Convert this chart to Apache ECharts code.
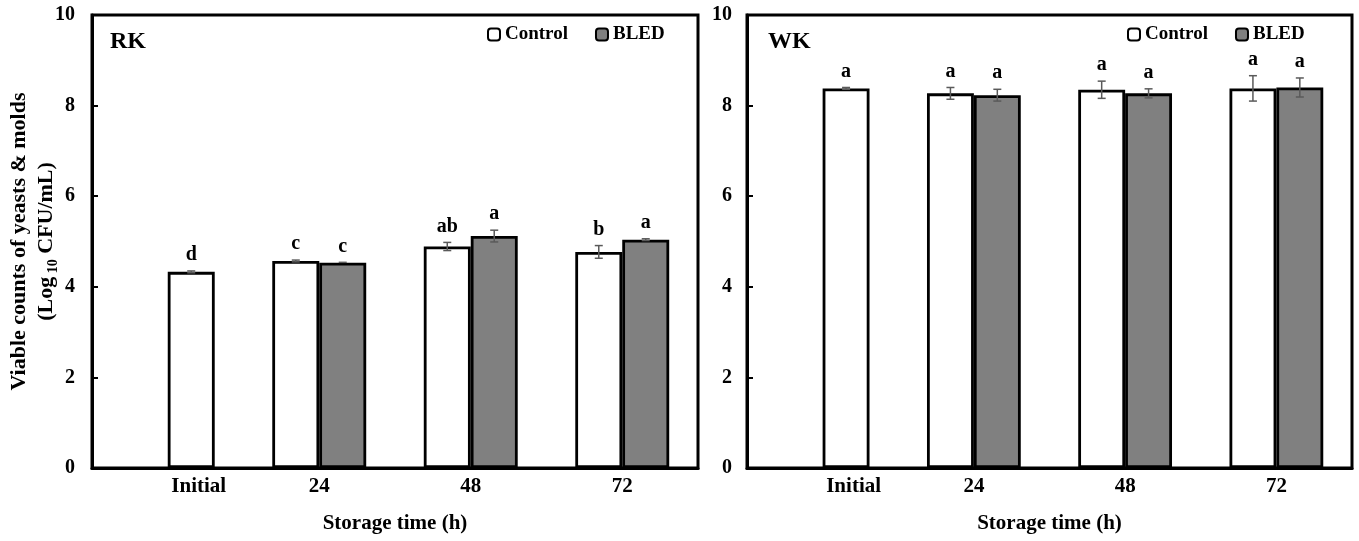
<!DOCTYPE html>
<html><head><meta charset="utf-8">
<script src="https://cdn.jsdelivr.net/npm/echarts@6/dist/echarts.min.js"></script>
<style>html,body{margin:0;padding:0;background:#fff}#c{width:1359px;height:541px}</style>
</head><body><div id="c"></div>
<script>
const categories = ['Initial', '24', '48', '72'];
const seriesNames = ['Control', 'BLED'];
const yTicks = [0, 2, 4, 6, 8, 10];
// RK panel (Initial value is drawn as a single white bar)
const rkControl = [4.33, 4.57, 4.89, 4.77];
const rkControlErr = [0.02, 0.02, 0.09, 0.14];
const rkControlLetters = ['d', 'c', 'ab', 'b'];
const rkBled = [null, 4.53, 5.12, 5.04];
const rkBledErr = [null, 0.01, 0.13, 0.02];
const rkBledLetters = [null, 'c', 'a', 'a'];
// WK panel
const wkControl = [8.38, 8.27, 8.35, 8.38];
const wkControlErr = [0.02, 0.13, 0.19, 0.28];
const wkControlLetters = ['a', 'a', 'a', 'a'];
const wkBled = [null, 8.23, 8.27, 8.40];
const wkBledErr = [null, 0.13, 0.10, 0.21];
const wkBledLetters = [null, 'a', 'a', 'a'];

const FONT = '"Liberation Serif", "Times New Roman", serif';
const GAP = 0.38;
const chart = echarts.init(document.getElementById('c'), null, {renderer: 'canvas'});

function panelSeries(idx, ctrl, ctrlErr, ctrlLet, bled, bledErr, bledLet) {
  // Initial category: only the control value, placed in the second slot.
  const ctrlData = ctrl.map((v, i) => i === 0 ? null : v);
  const bledData = bled.map((v, i) => i === 0 ? {value: ctrl[0], itemStyle: {color: '#ffffff'}} : v);
  const err = [];
  const letters = [];
  ctrl.forEach((v, i) => {
    const slot = i === 0 ? 1 : -1;
    err.push([i, v, ctrlErr[i], slot]);
    letters.push(ctrlLet[i]);
  });
  bled.forEach((v, i) => {
    if (v == null) return;
    err.push([i, v, bledErr[i], 1]);
    letters.push(bledLet[i]);
  });
  return [
    {name: 'Control', type: 'bar', xAxisIndex: idx, yAxisIndex: idx, data: ctrlData,
      barGap: '0%', barCategoryGap: (GAP * 100) + '%',
      itemStyle: {color: '#ffffff', borderColor: '#000', borderWidth: 2.8}},
    {name: 'BLED', type: 'bar', xAxisIndex: idx, yAxisIndex: idx, data: bledData,
      barGap: '0%', barCategoryGap: (GAP * 100) + '%',
      itemStyle: {color: '#808080', borderColor: '#000', borderWidth: 2.8}},
    {type: 'custom', xAxisIndex: idx, yAxisIndex: idx, data: err, z: 5, silent: true,
      renderItem(params, api) {
        const x = api.value(0), v = api.value(1), e = api.value(2), slot = api.value(3);
        const band = api.size([1, 0])[0];
        const off = slot * band * (1 - GAP) / 4;
        const top = api.coord([x, v + e]);
        const bot = api.coord([x, v - e]);
        const cx = top[0] + off;
        const st = {stroke: '#5a5a5a', lineWidth: 1.5};
        const children = [];
        if (e > 0.015) {
          children.push({type: 'line', shape: {x1: cx, y1: top[1], x2: cx, y2: bot[1]}, style: st});
          children.push({type: 'line', shape: {x1: cx - 4, y1: top[1], x2: cx + 4, y2: top[1]}, style: st});
          children.push({type: 'line', shape: {x1: cx - 4, y1: bot[1], x2: cx + 4, y2: bot[1]}, style: st});
        } else {
          children.push({type: 'line', shape: {x1: cx - 4, y1: top[1], x2: cx + 4, y2: top[1]}, style: st});
        }
        children.push({type: 'text', x: cx, y: top[1] - 6,
          style: {text: letters[params.dataIndex], fill: '#000', font: 'bold 20px ' + FONT,
            align: 'center', verticalAlign: 'bottom'}});
        return {type: 'group', children};
      }}
  ];
}

function xAxis(idx) {
  return {type: 'category', gridIndex: idx, data: categories,
    axisLine: {lineStyle: {color: '#000', width: 3}}, axisTick: {show: false},
    axisLabel: {interval: 0, margin: 8, color: '#000', fontFamily: FONT, fontWeight: 'bold', fontSize: 21,
      formatter: (v, i) => i === 0 ? '{p|' + v + '}' : v,
      rich: {p: {padding: [0, 0, 0, 62], color: '#000', fontFamily: FONT, fontWeight: 'bold', fontSize: 21}}},
    name: 'Storage time (h)', nameLocation: 'middle', nameGap: 45, nameMoveOverlap: false,
    nameTextStyle: {color: '#000', fontFamily: FONT, fontWeight: 'bold', fontSize: 21}};
}
function yAxis(idx, withName) {
  const a = {type: 'value', gridIndex: idx, min: yTicks[0], max: yTicks[yTicks.length - 1],
    interval: yTicks[1] - yTicks[0],
    axisLine: {show: true, lineStyle: {color: '#000', width: 3}},
    axisTick: {show: true, inside: true, length: 6, lineStyle: {color: '#000', width: 2}},
    splitLine: {show: false},
    axisLabel: {margin: withName ? 17 : 15, color: '#000', fontFamily: FONT, fontWeight: 'bold', fontSize: 20}};
  if (withName) {
    a.name = '{t|Viable counts of yeasts & molds}\n{t|(Log}{s| 10}{t| CFU/mL)}';
    a.nameLocation = 'middle';
    a.nameRotate = 90;
    a.nameGap = 32;
    a.nameMoveOverlap = false;
    a.nameTextStyle = {color: '#000', fontFamily: FONT, fontWeight: 'bold', fontSize: 22, lineHeight: 27,
      rich: {t: {color: '#000', fontFamily: FONT, fontWeight: 'bold', fontSize: 22, lineHeight: 27},
        s: {color: '#000', fontFamily: FONT, fontWeight: 'bold', fontSize: 14, lineHeight: 14, verticalAlign: 'bottom'}}};
  }
  return a;
}
const legendBase = {data: seriesNames, itemWidth: 12, itemHeight: 12, itemGap: 27, top: 20,
  itemStyle: {borderWidth: 2, borderColor: '#000'},
  textStyle: {color: '#000', fontFamily: FONT, fontWeight: 'bold', fontSize: 19}, selectedMode: false};

chart.setOption({
  animation: false,
  backgroundColor: '#fff',
  grid: [
    {left: 92, top: 15, width: 606, height: 453, show: true, borderColor: '#000', borderWidth: 3,
      containLabel: false, outerBoundsMode: 'none'},
    {left: 747, top: 15, width: 605, height: 453, show: true, borderColor: '#000', borderWidth: 3,
      containLabel: false, outerBoundsMode: 'none'}
  ],
  legend: [Object.assign({left: 482}, legendBase), Object.assign({left: 1122}, legendBase)],
  xAxis: [xAxis(0), xAxis(1)],
  yAxis: [yAxis(0, true), yAxis(1, false)],
  graphic: [
    {type: 'text', left: 110, top: 30, style: {text: 'RK', fill: '#000', font: 'bold 24px ' + FONT}},
    {type: 'text', left: 768, top: 30, style: {text: 'WK', fill: '#000', font: 'bold 24px ' + FONT}}
  ],
  series: [].concat(
    panelSeries(0, rkControl, rkControlErr, rkControlLetters, rkBled, rkBledErr, rkBledLetters),
    panelSeries(1, wkControl, wkControlErr, wkControlLetters, wkBled, wkBledErr, wkBledLetters))
});
</script></body></html>
